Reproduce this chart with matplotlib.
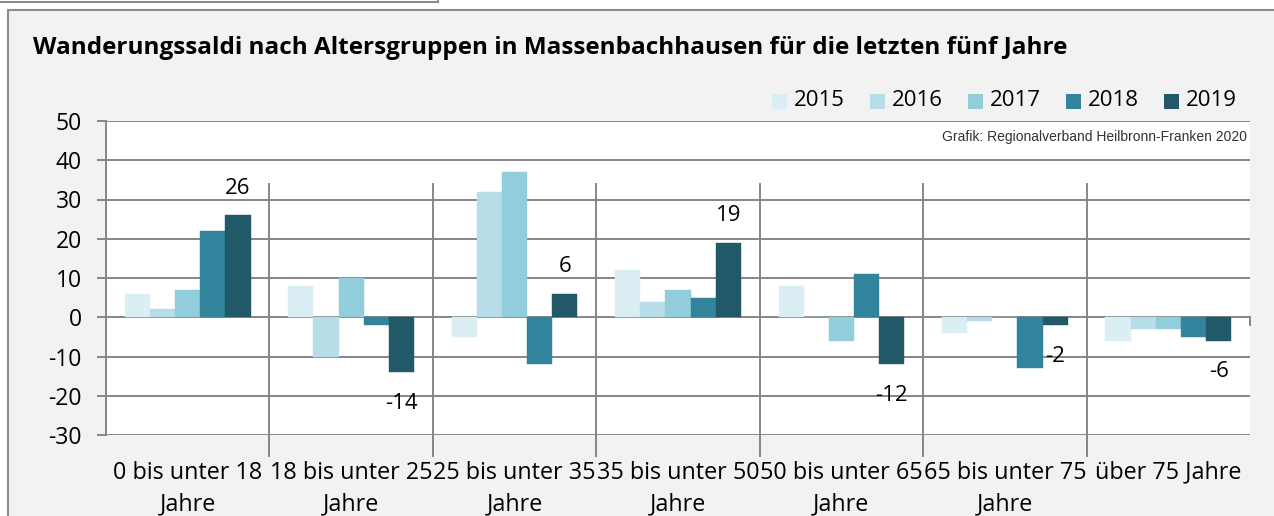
import matplotlib
matplotlib.use("Agg")
import matplotlib.pyplot as plt
from matplotlib.patches import Rectangle
from matplotlib.lines import Line2D
import numpy as np

categories = ["0 bis unter 18\nJahre", "18 bis unter 25\nJahre", "25 bis unter 35\nJahre",
              "35 bis unter 50\nJahre", "50 bis unter 65\nJahre", "65 bis unter 75\nJahre",
              "über 75 Jahre"]
years = ["2015", "2016", "2017", "2018", "2019"]
v2015 = [6, 8, -5, 12, 8, -4, -6]
v2016 = [2, -10, 32, 4, 0, -1, -3]
v2017 = [7, 10, 37, 7, -6, 0, -3]
v2018 = [22, -2, -12, 5, 11, -13, -5]
v2019 = [26, -14, 6, 19, -12, -2, -6]
series = [v2015, v2016, v2017, v2018, v2019]
colors = ["#daeef3", "#b7dde8", "#92cddc", "#31849b", "#215968"]
yticks = list(range(-30, 51, 10))

W, H = 1274, 516
def fx(p): return p / W
def fy(p): return 1 - p / H

FONT = "Open Sans"
FS = 16
fig = plt.figure(figsize=(W / 100, H / 100), dpi=100, facecolor="white")

# outer chart frame
fig.patches.append(Rectangle((fx(8), -0.05), 1.1, fy(10) + 0.05, transform=fig.transFigure,
                             facecolor="#f2f2f2", edgecolor="#8c8c8c", lw=1.5, zorder=-5))
fig.add_artist(Line2D([0, fx(438)], [fy(1.5), fy(1.5)], color="#8c8c8c", lw=1.5))
fig.add_artist(Line2D([fx(438), fx(438)], [1, fy(2)], color="#8c8c8c", lw=1.5))

ax = fig.add_axes([fx(106), fy(435), fx(1250) - fx(106), fy(121) - fy(435)])
ax.set_zorder(1)
ax.set_facecolor("white")
x = np.arange(len(categories))
w = 0.154
for j, (vals, c) in enumerate(zip(series, colors)):
    ax.bar(x + (j - 2) * w, vals, width=w, color=c, edgecolor=c, lw=0.3, zorder=3)

# data labels for 2019
for xi, v in zip(x, v2019):
    off = 19.5 if v > 0 else -22.3
    ax.annotate(str(v), (xi + 2 * w, v), xytext=(0, off), textcoords="offset points",
                ha="center", va="center", fontsize=FS, family=FONT, color="#000000", zorder=5)

ax.set_xlim(-0.5, len(categories) - 0.5)
ax.set_ylim(-30, 50)
ax.set_yticks(yticks)
ax.set_yticklabels([str(t) for t in yticks], family=FONT, fontsize=16.5)
ax.yaxis.grid(True, color="#868686", lw=1.4, zorder=1)
ax.set_axisbelow(True)
ax.tick_params(axis="y", length=6.5, width=1.4, color="#868686", pad=11)
ax.set_xticks(x)
ax.set_xticklabels(categories, family=FONT, fontsize=16.8, linespacing=1.45)
ax.tick_params(axis="x", length=0, pad=18.5)
for s in ["top", "right", "bottom"]:
    ax.spines[s].set_visible(False)
ax.spines["left"].set_color("#868686")
ax.spines["left"].set_linewidth(1.4)

# category separator lines (extend below axis)
for i in range(len(categories) - 1):
    ax.plot([i + 0.5, i + 0.5], [34.0, -35.4], color="#868686", lw=1.4, clip_on=False, zorder=2)
ax.plot([len(categories) - 0.5] * 2, [0, -2], color="#868686", lw=1.4, clip_on=False, zorder=2)

# title
fig.text(fx(33), fy(48), "Wanderungssaldi nach Altersgruppen in Massenbachhausen für die letzten fünf Jahre",
         ha="left", va="center", fontsize=17.5, fontweight="bold", family=FONT)

# legend
for j, (lab, c) in enumerate(zip(years, colors)):
    x0 = 772 + 98 * j
    fig.patches.append(Rectangle((fx(x0), fy(108.5)), fx(15), 14 / H, transform=fig.transFigure,
                                 facecolor=c, edgecolor="none"))
    fig.text(fx(x0 + 22), fy(100), lab, ha="left", va="center", fontsize=FS, family=FONT)

fig.text(fx(1247), fy(137), "Grafik: Regionalverband Heilbronn-Franken 2020", ha="right", va="center",
         fontsize=10, family="Liberation Sans", color="#333333", zorder=5)

fig.savefig("out.png", dpi=100, facecolor=fig.get_facecolor())
